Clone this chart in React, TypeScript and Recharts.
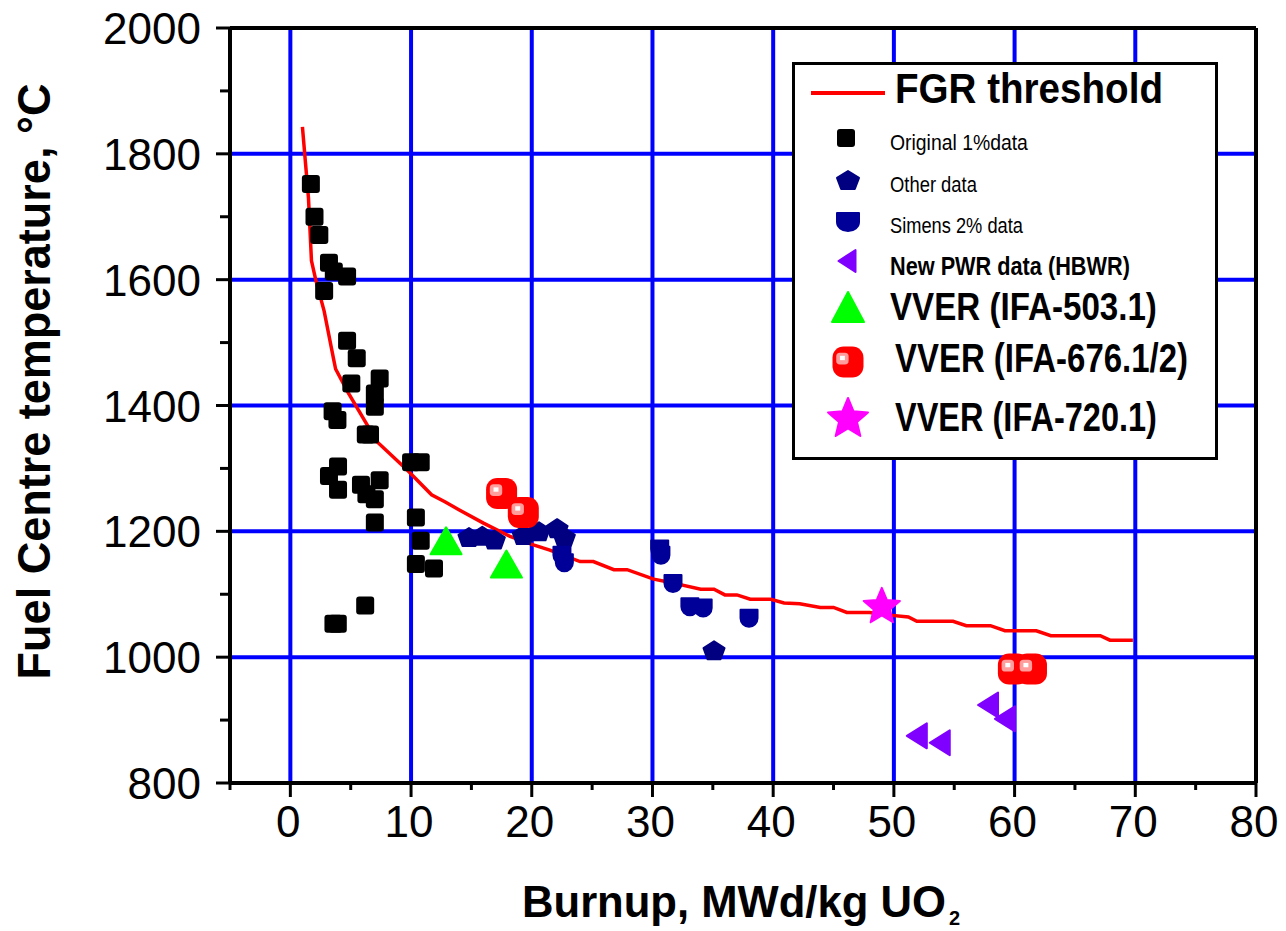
import React from 'react';
import { ScatterChart, Scatter, XAxis, YAxis, CartesianGrid, ReferenceLine, Legend, Label } from 'recharts';

const FONT = '"Liberation Sans", Arial, Helvetica, sans-serif';

// ---------- axis ticks ----------
const xTicks = [-5, 0, 5, 10, 15, 20, 25, 30, 35, 40, 45, 50, 55, 60, 65, 70, 75, 80];
const yTicks = [800, 900, 1000, 1100, 1200, 1300, 1400, 1500, 1600, 1700, 1800, 1900, 2000];
const xGridValues = [0, 10, 20, 30, 40, 50, 60, 70];
const yGridValues = [1000, 1200, 1400, 1600, 1800];

// ---------- series ----------
const fgrThreshold = [
  { x: 1.0, y: 1843 }, { x: 1.5, y: 1730 }, { x: 1.75, y: 1630 }, { x: 2.1, y: 1600 },
  { x: 2.8, y: 1550 }, { x: 3.6, y: 1472 }, { x: 3.75, y: 1458 }, { x: 4.8, y: 1420 },
  { x: 6.4, y: 1368 }, { x: 7.2, y: 1342 }, { x: 9.7, y: 1297 }, { x: 11.7, y: 1258 },
  { x: 12.8, y: 1247 }, { x: 14.0, y: 1234 }, { x: 16.0, y: 1213 }, { x: 18.2, y: 1192 },
  { x: 20.2, y: 1178 }, { x: 21.5, y: 1170 }, { x: 24.0, y: 1152 }, { x: 25.1, y: 1152 },
  { x: 26.8, y: 1139 }, { x: 27.9, y: 1139 }, { x: 30.1, y: 1124 }, { x: 31.2, y: 1120 },
  { x: 34.0, y: 1108 }, { x: 35.1, y: 1108 }, { x: 36.0, y: 1099 }, { x: 37.0, y: 1099 },
  { x: 38.1, y: 1092 }, { x: 39.8, y: 1092 }, { x: 40.9, y: 1086 }, { x: 42.2, y: 1085 },
  { x: 43.9, y: 1079 }, { x: 45.0, y: 1079 }, { x: 46.1, y: 1071 }, { x: 48.0, y: 1071 },
  { x: 49.0, y: 1068 }, { x: 51.2, y: 1064 }, { x: 51.9, y: 1057 }, { x: 54.9, y: 1057 },
  { x: 56.0, y: 1050 }, { x: 58.0, y: 1050 }, { x: 59.2, y: 1042 }, { x: 61.8, y: 1042 },
  { x: 63.0, y: 1034 }, { x: 67.1, y: 1034 }, { x: 67.9, y: 1027 }, { x: 69.8, y: 1027 },
];

const original1 = [
  { x: 1.7, y: 1752 }, { x: 2.0, y: 1700 }, { x: 2.4, y: 1671 }, { x: 3.2, y: 1627 },
  { x: 3.6, y: 1613 }, { x: 4.7, y: 1605 }, { x: 2.8, y: 1582 }, { x: 4.7, y: 1503 },
  { x: 5.5, y: 1475 }, { x: 5.05, y: 1435 }, { x: 7.4, y: 1443 }, { x: 7.0, y: 1419 },
  { x: 7.0, y: 1398 }, { x: 3.5, y: 1391 }, { x: 3.9, y: 1377 }, { x: 6.25, y: 1354 },
  { x: 6.6, y: 1354 }, { x: 10.0, y: 1310 }, { x: 10.8, y: 1310 }, { x: 3.95, y: 1303 },
  { x: 3.2, y: 1288 }, { x: 3.95, y: 1266 }, { x: 5.85, y: 1274 }, { x: 7.4, y: 1281 },
  { x: 6.3, y: 1259 }, { x: 7.0, y: 1251 }, { x: 7.0, y: 1214 }, { x: 10.4, y: 1222 },
  { x: 10.8, y: 1185 }, { x: 10.4, y: 1148 }, { x: 11.9, y: 1141 }, { x: 6.2, y: 1082 },
  { x: 3.57, y: 1053 }, { x: 3.93, y: 1053 },
];

const otherData = [
  { x: 14.8, y: 1191 }, { x: 15.9, y: 1193 }, { x: 16.9, y: 1187 }, { x: 19.3, y: 1194 },
  { x: 20.6, y: 1200 }, { x: 22.1, y: 1205 }, { x: 22.7, y: 1191 }, { x: 35.1, y: 1011 },
];

const simens2 = [
  { x: 22.5, y: 1162 }, { x: 22.7, y: 1150 }, { x: 30.6, y: 1172 }, { x: 30.7, y: 1162 },
  { x: 31.7, y: 1117 }, { x: 33.1, y: 1080 }, { x: 34.2, y: 1078 }, { x: 38.0, y: 1062 },
];

const newPwr = [
  { x: 51.9, y: 875 }, { x: 53.8, y: 864 }, { x: 57.8, y: 924 }, { x: 59.2, y: 902 },
];

const vver503 = [{ x: 12.9, y: 1185 }, { x: 17.9, y: 1148 }];
const vver676 = [{ x: 17.5, y: 1260 }, { x: 19.3, y: 1230 }, { x: 59.9, y: 981 }, { x: 61.4, y: 981 }];
const vver720 = [{ x: 49.0, y: 1080 }];

// ---------- text fitting (condensed look, measured locally) ----------
let _ctx: any = null;
const measureText = (txt: string, size: number, bold: boolean) => {
  try {
    if (!_ctx) _ctx = document.createElement('canvas').getContext('2d');
    _ctx.font = `${bold ? 'bold ' : ''}${size}px "Liberation Sans", Arial, sans-serif`;
    const w = _ctx.measureText(txt).width;
    return w > 0 ? w : txt.length * size * 0.55;
  } catch (e) {
    return txt.length * size * 0.55;
  }
};

const FitText = ({ x, y, w, size, bold, anchor = 'start', rotate = 0, children }: any) => {
  const nat = measureText(children, size, !!bold);
  const k = w / nat;
  return (
    <text transform={`translate(${x},${y}) rotate(${rotate}) scale(${k},1)`} x={0} y={0}
      textAnchor={anchor} fontFamily={FONT} fontSize={size} fontWeight={bold ? 'bold' : 'normal'} fill="#000">
      {children}
    </text>
  );
};

// ---------- marker shapes ----------
const SquareM = ({ cx, cy, s = 18 }: any) => (
  <rect x={cx - s / 2} y={cy - s / 2} width={s} height={s} rx={3} fill="#000" />
);

const PentagonM = ({ cx, cy, w = 21, h = 18 }: any) => {
  const pts = [
    [0, -h / 2], [w / 2, -h / 2 + 0.38 * h], [w * 0.31, h / 2], [-w * 0.31, h / 2], [-w / 2, -h / 2 + 0.38 * h],
  ].map(([a, b]) => `${cx + a},${cy + b}`).join(' ');
  return <polygon points={pts} fill="#000080" stroke="#000080" strokeWidth={2} strokeLinejoin="round" />;
};

const ShieldM = ({ cx, cy, w = 17, h = 17 }: any) => (
  <path
    d={`M ${cx - w / 2} ${cy - h / 2} H ${cx + w / 2} V ${cy} A ${w / 2} ${h / 2} 0 0 1 ${cx - w / 2} ${cy} Z`}
    fill="#000099" stroke="#000099" strokeWidth={2} strokeLinejoin="round"
  />
);

const LeftTriM = ({ cx, cy, w = 20, h = 25 }: any) => (
  <polygon
    points={`${cx + w / 2},${cy - h / 2} ${cx + w / 2},${cy + h / 2} ${cx - w / 2},${cy}`}
    fill="#8000FF" stroke="#8000FF" strokeWidth={2} strokeLinejoin="round"
  />
);

const UpTriM = ({ cx, cy, w = 31, h = 27 }: any) => (
  <polygon
    points={`${cx},${cy - h / 2} ${cx + w / 2},${cy + h / 2} ${cx - w / 2},${cy + h / 2}`}
    fill="#00FF00" stroke="#00FF00" strokeWidth={2} strokeLinejoin="round"
  />
);

const BlobM = ({ cx, cy, s = 31 }: any) => (
  <g>
    <rect x={cx - s / 2} y={cy - s / 2} width={s} height={s} rx={s * 0.36} fill="#FF0000" />
    <rect x={cx - s * 0.38} y={cy - s * 0.3} width={s * 0.4} height={s * 0.38} rx={s * 0.12} fill="#FF9C9C" />
    <rect x={cx - s * 0.26} y={cy - s * 0.2} width={s * 0.16} height={s * 0.14} fill="#FFFFFF" />
  </g>
);

const StarM = ({ cx, cy, r = 19 }: any) => {
  const pts: string[] = [];
  for (let i = 0; i < 10; i++) {
    const ang = -Math.PI / 2 + (i * Math.PI) / 5;
    const rr = i % 2 === 0 ? r : r * 0.45;
    pts.push(`${cx + rr * Math.cos(ang)},${cy + rr * Math.sin(ang)}`);
  }
  return <polygon points={pts.join(' ')} fill="#FF00FF" stroke="#FF00FF" strokeWidth={2} strokeLinejoin="round" />;
};

const NoDot = () => <g />;

// ---------- ticks ----------
const XTick = ({ x, y, payload }: any) => {
  const v = payload.value;
  const major = v % 10 === 0;
  return (
    <g>
      <line x1={x} x2={x} y1={y} y2={y + (major ? 14 : 7)} stroke="#000" strokeWidth={3} />
      {major && (
        <text x={x - 2} y={y + 54} textAnchor="middle" fontFamily={FONT} fontSize={44} fill="#000">
          {v}
        </text>
      )}
    </g>
  );
};

const YTick = ({ x, y, payload }: any) => {
  const v = payload.value;
  const major = v % 200 === 0;
  return (
    <g>
      <line x1={x} x2={x - (major ? 14 : 10)} y1={y} y2={y} stroke="#000" strokeWidth={3} />
      {major && (
        <text x={x - 29} y={y + 16} textAnchor="end" fontFamily={FONT} fontSize={44} fill="#000">
          {v}
        </text>
      )}
    </g>
  );
};

const XLabel = ({ viewBox }: any) => {
  const sx = viewBox.x + 292;
  const by = viewBox.y + 134;
  return (
    <g>
      <FitText x={sx} y={by} w={424} size={44} bold>Burnup, MWd/kg UO</FitText>
      <text x={sx + 427} y={by + 8} fontFamily={FONT} fontWeight="bold" fontSize={20} fill="#000">2</text>
    </g>
  );
};

const YLabel = ({ viewBox }: any) => {
  const bx = viewBox.x + viewBox.width - 180;
  const cy = viewBox.y + viewBox.height / 2 - 24;
  return <FitText x={bx} y={cy} w={596} size={46} bold anchor="middle" rotate={-90}>Fuel Centre temperature, °C</FitText>;
};

// ---------- legend ----------
const LegendBox = () => (
  <div style={{ width: 426, height: 398, border: '3px solid #000', boxSizing: 'border-box', background: '#fff', lineHeight: 0 }}>
    <svg width={420} height={392} style={{ display: 'block' }}>
      <line x1={16} x2={90} y1={28} y2={28} stroke="#FF0000" strokeWidth={4} />
      <FitText x={100} y={38} w={268} size={42} bold>FGR threshold</FitText>
      <SquareM cx={51} cy={73} s={18} />
      <FitText x={95} y={85} w={138} size={22}>Original 1%data</FitText>
      <PentagonM cx={53} cy={115} w={22} h={18} />
      <FitText x={95} y={127} w={87} size={22}>Other data</FitText>
      <ShieldM cx={53} cy={157} w={22} h={18} />
      <FitText x={95} y={168} w={133} size={22}>Simens 2% data</FitText>
      <LeftTriM cx={52} cy={196} w={17} h={22} />
      <FitText x={95} y={210} w={240} size={26} bold>New PWR data (HBWR)</FitText>
      <UpTriM cx={53} cy={242} w={32} h={30} />
      <FitText x={95} y={255} w={267} size={39} bold>VVER (IFA-503.1)</FitText>
      <BlobM cx={53} cy={297} s={31} />
      <FitText x={100} y={307} w={293} size={41} bold>VVER (IFA-676.1/2)</FitText>
      <StarM cx={53} cy={354} r={21} />
      <FitText x={100} y={366} w={262} size={40} bold>VVER (IFA-720.1)</FitText>
    </svg>
  </div>
);

export default function App() {
  return (
    <div style={{ width: 1270, height: 931, background: '#fff', marginTop: -8 }}>
      <ScatterChart width={1270} height={931} margin={{ top: 28, right: 22, bottom: 108, left: 100 }}>
        <CartesianGrid horizontalValues={yGridValues} verticalValues={xGridValues} stroke="#0000FF" strokeWidth={4} strokeDasharray="" />
        <XAxis type="number" dataKey="x" domain={[-5, 80]} ticks={xTicks} interval={0} allowDataOverflow
          height={40} tickSize={0} tickMargin={0} tick={<XTick />} tickLine={false}
          axisLine={{ stroke: '#000', strokeWidth: 4 }}>
          <Label content={<XLabel />} />
        </XAxis>
        <YAxis type="number" dataKey="y" domain={[800, 2000]} ticks={yTicks} interval={0} allowDataOverflow
          width={122} tickSize={0} tickMargin={0} tick={<YTick />} tickLine={false}
          axisLine={{ stroke: '#000', strokeWidth: 4 }}>
          <Label content={<YLabel />} />
        </YAxis>
        <ReferenceLine y={2000} stroke="#000" strokeWidth={4} />
        <ReferenceLine x={80} stroke="#000" strokeWidth={4} />
        <Scatter name="FGR threshold" data={fgrThreshold} line={{ stroke: '#FF0000', strokeWidth: 3.5 }} shape={<NoDot />} isAnimationActive={false} />
        <Scatter name="Original 1%data" data={original1} shape={(p: any) => <SquareM cx={p.cx} cy={p.cy} />} isAnimationActive={false} />
        <Scatter name="Other data" data={otherData} shape={(p: any) => <PentagonM cx={p.cx} cy={p.cy} />} isAnimationActive={false} />
        <Scatter name="Simens 2% data" data={simens2} shape={(p: any) => <ShieldM cx={p.cx} cy={p.cy} />} isAnimationActive={false} />
        <Scatter name="New PWR data (HBWR)" data={newPwr} shape={(p: any) => <LeftTriM cx={p.cx} cy={p.cy} />} isAnimationActive={false} />
        <Scatter name="VVER (IFA-503.1)" data={vver503} shape={(p: any) => <UpTriM cx={p.cx} cy={p.cy} />} isAnimationActive={false} />
        <Scatter name="VVER (IFA-676.1/2)" data={vver676} shape={(p: any) => <BlobM cx={p.cx} cy={p.cy} />} isAnimationActive={false} />
        <Scatter name="VVER (IFA-720.1)" data={vver720} shape={(p: any) => <StarM cx={p.cx} cy={p.cy} />} isAnimationActive={false} />
        <Legend layout="vertical" align="center" verticalAlign="middle" content={<LegendBox />}
          wrapperStyle={{ position: 'absolute', left: 784, top: 62, width: 426, height: 398, margin: 0, padding: 0 }} />
      </ScatterChart>
    </div>
  );
}
